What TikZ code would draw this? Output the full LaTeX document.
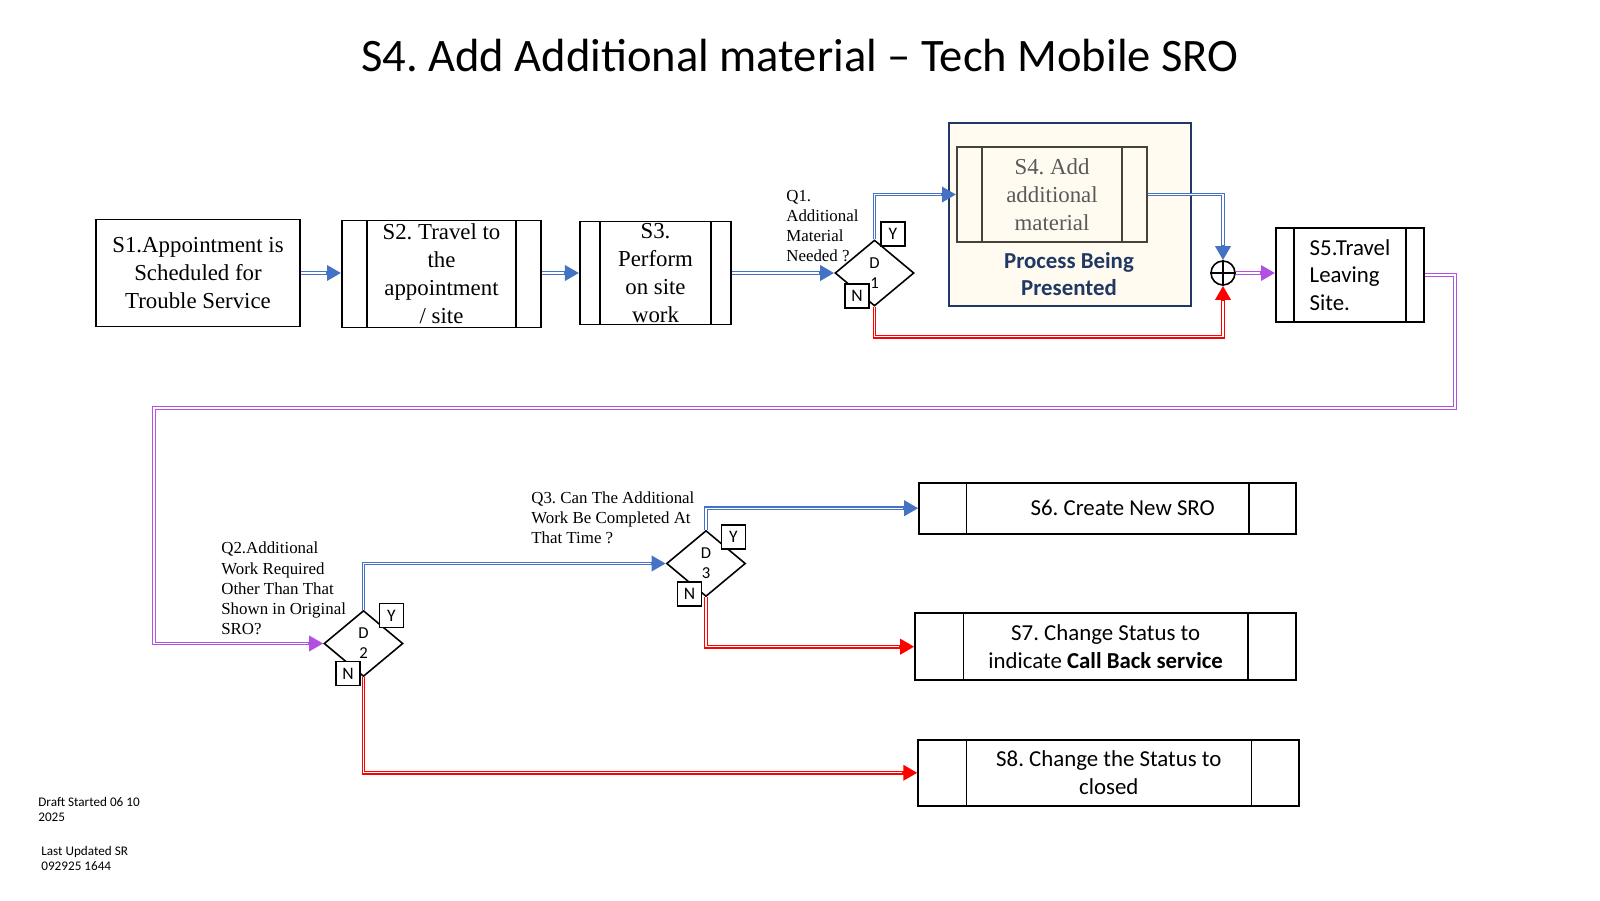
\documentclass[tikz,border=0pt]{standalone}
\usepackage{fontspec}
\setmainfont{Liberation Serif}
\newfontfamily\calib{Carlito}
\usetikzlibrary{shapes.geometric, arrows.meta, positioning}
\definecolor{flowblue}{RGB}{68,114,196}
\definecolor{flowred}{RGB}{255,0,0}
\definecolor{flowpurple}{RGB}{178,80,228}
\definecolor{procnavy}{RGB}{31,56,100}
\definecolor{proccream}{RGB}{255,251,240}
\definecolor{procgray}{RGB}{89,89,89}
\definecolor{procedge}{RGB}{70,68,58}
\frenchspacing

\begin{document}
\begin{tikzpicture}[
    x=0.02cm, y=-0.02cm,
    every node/.style={inner sep=2pt},
    stripcolor/.store in=\stripcol, stripcolor=black,
    serif/.style={font=\fontsize{13}{16}\selectfont\rmfamily},
    sans/.style={font=\fontsize{13}{15.6}\selectfont\calib},
    plainbox/.style={rectangle, draw=black, line width=1.1pt, align=center},
    procbox/.style={rectangle, draw=black, line width=1.1pt, align=center,
        path picture={
            \draw[\stripcol, line width=0.8pt] ([xshift=#1]path picture bounding box.north west) -- ([xshift=#1]path picture bounding box.south west);
            \draw[\stripcol, line width=0.8pt] ([xshift=-#1]path picture bounding box.north east) -- ([xshift=-#1]path picture bounding box.south east);
        }},
    decision/.style={diamond, draw=black, line width=0.9pt, minimum width=1.58cm, minimum height=1.32cm, inner sep=0pt, align=center, font=\fontsize{9.5}{11.3}\selectfont\calib},
    answer/.style={rectangle, draw=black, line width=1.1pt, fill=white, minimum size=0.48cm, inner sep=0pt, font=\fontsize{10}{10}\selectfont\calib},
    question/.style={align=left, inner sep=0pt, font=\fontsize{9.6}{11.5}\selectfont\rmfamily},
    flow/.style={draw=#1, line width=2.2pt, -{Triangle[length=8pt,width=8.5pt]},
        postaction={draw=white, line width=0.75pt, -, shorten >=8.5pt}},
    note/.style={align=left, inner sep=0pt, font=\fontsize{7.5}{8.8}\selectfont\calib}
]
\useasboundingbox (0,0) rectangle (1600,900);

\node[font=\fontsize{26.5}{30}\selectfont\calib] (title) at (800,56) {S4. Add Additional material – Tech Mobile SRO};

% top row
\node[plainbox, serif, minimum width=4.08cm, minimum height=2.14cm] (s1) at (198,273) {S1.Appointment is\\Scheduled for\\Trouble Service};
\node[procbox=0.5cm, serif, minimum width=3.98cm, minimum height=2.14cm, inner ysep=0pt] (s2) at (441.5,274) {S2. Travel to\\the\\appointment\\/ site};
\node[procbox=0.4cm, serif, minimum width=3.02cm, minimum height=2.06cm, inner ysep=0pt] (s3) at (655.5,273) {S3.\\Perform\\on site\\work};

\node[decision] (d1) at (874.5,273) {D\\1};
\node[answer] (d1y) at (893,234) {Y};
\node[answer] (d1n) at (857,296) {N};
\node[question, anchor=west] (q1) at (786,226) {Q1.\\Additional\\Material\\Needed ?};

\node[rectangle, draw=procnavy, line width=1.1pt, fill=proccream, minimum width=4.84cm, minimum height=3.66cm] (frame) at (1070,214.5) {};
\node[procbox=0.5cm, draw=procedge, stripcolor=procedge, serif, text=procgray, minimum width=3.8cm, minimum height=1.9cm] (s4) at (1052,194.5) {S4. Add\\additional\\material};
\node[font=\fontsize{13}{15.6}\selectfont\calib\bfseries, text=procnavy, align=center] (caption) at (1069,274) {Process Being\\Presented};

\node[circle, draw=black, line width=0.9pt, minimum size=0.48cm, inner sep=0pt] (sum) at (1223,273) {};
\draw[line width=0.9pt] (sum.north) -- (sum.south) (sum.west) -- (sum.east);

\node[procbox=0.36cm, sans, align=left, minimum width=2.96cm, minimum height=1.88cm] (s5) at (1350,275) {S5.Travel\\Leaving\\Site.};

% lower part
\node[decision] (d2) at (363.5,643.5) {D\\2};
\node[answer] (d2y) at (391.5,615.5) {Y};
\node[answer] (d2n) at (348,673.5) {N};
\node[question, anchor=west] (q2) at (221,588.5) {Q2.Additional\\Work Required\\Other Than That\\Shown in Original\\SRO?};

\node[decision] (d3) at (706,563.5) {D\\3};
\node[answer] (d3y) at (733.5,537) {Y};
\node[answer] (d3n) at (689.5,594) {N};
\node[question, anchor=west] (q3) at (531,517.5) {Q3. Can The Additional\\Work Be Completed At\\That Time ?};

\node[procbox=0.94cm, sans, minimum width=7.54cm, minimum height=1.02cm] (s6) at (1107.7,508.2) {\hspace*{0.6cm}S6. Create New SRO};
\node[procbox=0.96cm, sans, minimum width=7.62cm, minimum height=1.34cm] (s7) at (1105.7,646.7) {S7. Change Status to\\indicate \textbf{Call Back service}};
\node[procbox=0.96cm, sans, minimum width=7.62cm, minimum height=1.32cm] (s8) at (1108.8,772.8) {S8. Change the Status to\\closed};

\node[note, anchor=north west] (draft) at (38,797) {Draft Started 06 10\\2025};
\node[note, anchor=north west] (updated) at (41,846) {Last Updated SR\\092925 1644};

% connectors
\draw[flow=flowblue] (s1) -- (s1 -| s2.west);
\draw[flow=flowblue] (s2.east |- s3) -- (s3);
\draw[flow=flowblue] (s3) -- (d1);
\draw[flow=flowblue] (d1.north) |- (s4.west);
\draw[flow=flowblue] (s4.east) -| (sum.north);
\draw[flow=flowred] (d1.south) -- ++(0,30) -| (sum.south);
\draw[flow=flowpurple] (sum.east) -- (s5.west |- sum.east);

\coordinate (loopne) at (1455,408);
\coordinate (loopnw) at (154,408);
\draw[flow=flowpurple] (s5.east) -| (loopne) -- (loopnw) |- (d2.west);

\draw[flow=flowblue] (d2.north) |- (d3.west);
\draw[flow=flowblue] (d3.north) |- (s6.west);
\draw[flow=flowred] (d3.south) |- (s7.west);
\draw[flow=flowred] (d2.south) |- (s8.west);

\end{tikzpicture}
\end{document}
